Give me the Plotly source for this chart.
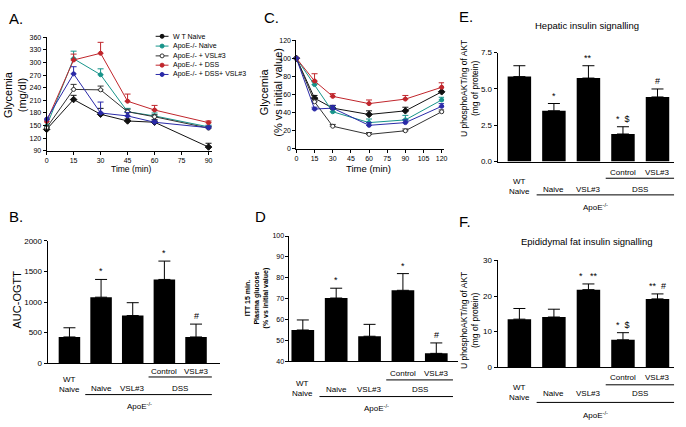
import plotly.graph_objects as go

W, H = 686, 427
FONT = "Liberation Sans, Arial, sans-serif"

# ---- Panel A: OGTT time course (mg/dl) ----
ogtt_time = [0, 15, 30, 45, 60, 90]
ogtt = {
    "W T Naive": [141, 212, 177, 161, 158, 99],
    "ApoE-/- Naive": [149, 309, 271, 183, 173, 147],
    "ApoE-/- + VSL#3": [145, 236, 235, 183, 171, 144],
    "ApoE-/- + DSS": [160, 306, 322, 208, 187, 157],
    "ApoE-/- + DSS+ VSL#3": [165, 273, 180, 173, 158, 145],
}
ogtt_err = {
    "W T Naive": [4, 10, 14, 5, 6, 9],
    "ApoE-/- Naive": [5, 18, 14, 8, 7, 4],
    "ApoE-/- + VSL#3": [4, 12, 9, 6, 5, 4],
    "ApoE-/- + DSS": [5, 14, 26, 17, 11, 4],
    "ApoE-/- + DSS+ VSL#3": [5, 17, 26, 8, 5, 4],
}

# ---- Panel C: ITT time course (% of initial) ----
itt_time = [0, 15, 30, 60, 90, 120]
itt = {
    "W T Naive": [100, 56, 45, 38, 42, 63],
    "ApoE-/- Naive": [100, 71, 41, 29, 32, 54],
    "ApoE-/- + VSL#3": [100, 52, 25, 16, 20, 41],
    "ApoE-/- + DSS": [100, 75, 58, 50, 55, 68],
    "ApoE-/- + DSS+ VSL#3": [100, 44, 45, 26, 29, 47],
}
itt_err = {
    "W T Naive": [0, 3, 3, 4, 4, 0],
    "ApoE-/- Naive": [0, 3, 5, 4, 5, 3],
    "ApoE-/- + VSL#3": [0, 2, 2, 2, 2, 2],
    "ApoE-/- + DSS": [0, 8, 3, 4, 4, 5],
    "ApoE-/- + DSS+ VSL#3": [0, 2, 3, 3, 3, 3],
}

# ---- bar panels (5 groups) ----
groups = ["WT Naive", "ApoE Naive", "ApoE VSL#3", "DSS Control", "DSS VSL#3"]
auc_ogtt = [430, 1080, 780, 1370, 430]
auc_ogtt_err = [150, 290, 210, 300, 210]
auc_marks = ["", "*", "", "*", "#"]

itt15 = [55, 70.3, 52, 74, 43.8]
itt15_err = [4.8, 4.7, 5.7, 8, 5]
itt15_marks = ["", "*", "", "*", "#"]

hepatic = [5.85, 3.5, 5.75, 1.9, 4.45]
hepatic_err = [0.75, 0.5, 0.85, 0.5, 0.55]
hepatic_marks = ["", "*", "**", "*  $", "#"]

epididymal = [13.5, 14.1, 21.8, 7.7, 19.2]
epididymal_err = [3.0, 2.2, 1.6, 2.0, 1.4]
epididymal_marks = ["", "", "*   **", "*  $", "**  #"]

styles = {
    "W T Naive": dict(color="#111111", fill="#111111", symbol="diamond"),
    "ApoE-/- Naive": dict(color="#17948a", fill="#17948a", symbol="circle"),
    "ApoE-/- + VSL#3": dict(color="#333333", fill="white", symbol="circle"),
    "ApoE-/- + DSS": dict(color="#c0262c", fill="#c0262c", symbol="circle"),
    "ApoE-/- + DSS+ VSL#3": dict(color="#2a2aa8", fill="#2a2aa8", symbol="circle"),
}


def px(x):
    return x / W


def py(y):
    return 1 - y / H


def axis(**kw):
    base = dict(
        showline=True, linecolor="black", linewidth=1, ticks="outside",
        ticklen=3, tickcolor="black", tickwidth=1, showgrid=False,
        zeroline=False, tickfont=dict(size=7, family=FONT, color="black"),
        fixedrange=True,
    )
    base.update(kw)
    return base


fig = go.Figure()
annotations = []
shapes = []


def text(x, y, s, size=8, xref="paper", yref="paper", **kw):
    kw.setdefault("xanchor", "center")
    kw.setdefault("yanchor", "middle")
    annotations.append(dict(
        x=x, y=y, text=s, xref=xref, yref=yref, showarrow=False,
        font=dict(size=size, family=FONT, color="black"), **kw))


# line panels
for (times, data, err, ax) in [(ogtt_time, ogtt, ogtt_err, ""), (itt_time, itt, itt_err, "2")]:
    for name, vals in data.items():
        st = styles[name]
        fig.add_trace(go.Scatter(
            x=times, y=vals, mode="lines+markers", name=name,
            xaxis="x" + ax, yaxis="y" + ax, cliponaxis=False, showlegend=False,
            line=dict(color=st["color"], width=1),
            marker=dict(size=4 if st["symbol"] == "circle" else 5, symbol=st["symbol"],
                        color=st["fill"], line=dict(color=st["color"], width=1)),
            error_y=dict(type="data", symmetric=False, array=err[name],
                         arrayminus=[0] * len(vals), color=st["color"],
                         thickness=1, width=3),
        ))

# bar panels
bar_panels = [
    ("4", auc_ogtt, auc_ogtt_err, auc_marks),
    ("5", itt15, itt15_err, itt15_marks),
    ("3", hepatic, hepatic_err, hepatic_marks),
    ("6", epididymal, epididymal_err, epididymal_marks),
]
for ax, vals, err, marks in bar_panels:
    xs = list(range(len(groups)))
    fig.add_trace(go.Bar(
        x=xs, y=vals, xaxis="x" + ax, yaxis="y" + ax, showlegend=False,
        marker=dict(color="black", line=dict(width=0)), width=0.68,
        error_y=dict(type="data", symmetric=False, array=err,
                     arrayminus=[0] * len(vals), color="black",
                     thickness=1, width=6),
    ))
    for i, m in enumerate(marks):
        if m:
            text(i, vals[i] + err[i], m, size=9, xref="x" + ax, yref="y" + ax,
                 yanchor="bottom", yshift=1)

# legend for panel A (drawn by hand to keep compact spacing)
leg_y = [33, 43, 53, 62.5, 72]
for (name, st), yy in zip(styles.items(), leg_y):
    shapes.append(dict(type="line", xref="paper", yref="paper",
                       x0=px(155), x1=px(168), y0=py(yy), y1=py(yy),
                       line=dict(color=st["color"], width=1)))
    shapes.append(dict(type="circle", xref="paper", yref="paper",
                       xsizemode="pixel", ysizemode="pixel",
                       xanchor=px(161.5), yanchor=py(yy),
                       x0=-2, x1=2, y0=-2, y1=2,
                       fillcolor=st["fill"], line=dict(color=st["color"], width=1)))
    text(px(170), py(yy), name, size=7, xanchor="left")


# group labels under bar charts
def group_labels(ax, ctrl_y, line1_y, wt_y, row2_y, line2_y, apoe_y, size=8):
    xr = "x" + ax
    text(3, py(ctrl_y), "Control", size=size, xref=xr)
    text(4, py(ctrl_y), "VSL#3", size=size, xref=xr)
    shapes.append(dict(type="line", xref=xr, yref="paper", x0=2.5, x1=4.5,
                       y0=py(line1_y), y1=py(line1_y), line=dict(color="black", width=1)))
    text(0, py(wt_y), "WT<br>Naive", size=size, xref=xr)
    text(1, py(row2_y), "Naive", size=size, xref=xr)
    text(2, py(row2_y), "VSL#3", size=size, xref=xr)
    text(3.5, py(row2_y), "DSS", size=size, xref=xr)
    shapes.append(dict(type="line", xref=xr, yref="paper", x0=0.5, x1=4.5,
                       y0=py(line2_y), y1=py(line2_y), line=dict(color="black", width=1)))
    text(2.2, py(apoe_y), "ApoE<sup>-/-</sup>", size=size, xref=xr)


group_labels("4", 375, 381, 389, 393, 399, 411)
group_labels("5", 377, 384, 393, 394, 401, 413)
group_labels("3", 172, 178, 186, 189, 195, 207)
group_labels("6", 382, 389, 397, 398, 407, 420)

# panel letters
for s, x, y in [("A.", 5, 4), ("C.", 262, 3), ("E.", 459, 2),
                ("B.", 5, 206), ("D", 253, 206), ("F.", 459, 211)]:
    text(px(x), py(y), s, size=15, xanchor="left", yanchor="top")

# axis titles
text(px(13), py(92), "Glycemia<br>(mg/dl)", size=11, textangle=-90)
text(px(271), py(90), "Glycemia<br>(% vs initial value)", size=11, textangle=-90)
text(px(15), py(302), "AUC-OGTT", size=11, textangle=-90)
text(px(257), py(300), "<b>ITT 15 min.<br>Plasma glucose<br>(% vs initial value)</b>",
     size=7, textangle=-90)
text(px(471), py(86), "U phosphoAKT/ng of AKT<br>(mg of protein)", size=8.5, textangle=-90)
text(px(471), py(323), "U phosphoAKT/ng of AKT<br>(mg of protein)", size=8.5, textangle=-90)
text(px(130), py(168.5), "Time (min)", size=8.5)
text(px(370), py(168), "Time (min)", size=9.5)
text(px(590), py(22), "Hepatic insulin signalling", size=9.5)
text(px(590), py(243), "Epididymal fat insulin signalling", size=9.5)

fig.update_layout(
    width=W, height=H, margin=dict(l=0, r=0, t=0, b=0),
    paper_bgcolor="white", plot_bgcolor="white",
    font=dict(family=FONT, color="black"),
    xaxis=axis(domain=[px(45), px(212)], range=[0, 92], anchor="y",
               tickvals=[0, 15, 30, 45, 60, 75, 90]),
    yaxis=axis(domain=[py(150), py(34)], range=[90, 360], anchor="x",
               tickvals=list(range(90, 361, 30))),
    xaxis2=axis(domain=[px(297), px(446)], range=[0, 122], anchor="y2",
                tickvals=list(range(0, 121, 15))),
    yaxis2=axis(domain=[py(148), py(37)], range=[0, 120], anchor="x2",
                tickvals=list(range(0, 121, 20))),
    xaxis3=axis(domain=[px(500), px(678)], range=[-0.63, 4.48], anchor="y3",
                ticks="", showticklabels=False),
    yaxis3=axis(domain=[py(161), py(49.7)], range=[0, 7.5], anchor="x3",
                tickvals=[0, 2.5, 5, 7.5], ticktext=["0.0", "2.5", "5.0", "7.5"],
                tickfont=dict(size=8, family=FONT, color="black")),
    xaxis4=axis(domain=[px(46), px(220)], range=[-0.69, 4.76], anchor="y4",
                ticks="", showticklabels=False),
    yaxis4=axis(domain=[py(367), py(242)], range=[0, 2000], anchor="x4",
                tickvals=[0, 500, 1000, 1500, 2000],
                tickfont=dict(size=8, family=FONT, color="black")),
    xaxis5=axis(domain=[px(290), px(460)], range=[-0.4, 4.65], anchor="y5",
                ticks="", showticklabels=False),
    yaxis5=axis(domain=[py(365), py(237)], range=[40, 100], anchor="x5",
                tickvals=list(range(40, 101, 10))),
    xaxis6=axis(domain=[px(500), px(678)], range=[-0.63, 4.48], anchor="y6",
                ticks="", showticklabels=False),
    yaxis6=axis(domain=[py(371), py(262)], range=[0, 30], anchor="x6",
                tickvals=[0, 10, 20, 30],
                tickfont=dict(size=8, family=FONT, color="black")),
    annotations=annotations,
    shapes=shapes,
    bargap=0.3,
)

# page margin off so the figure sits at the window's top-left corner
fig.write_html("out.html", config={"displayModeBar": False},
               post_script="document.body.style.margin='0px';")
